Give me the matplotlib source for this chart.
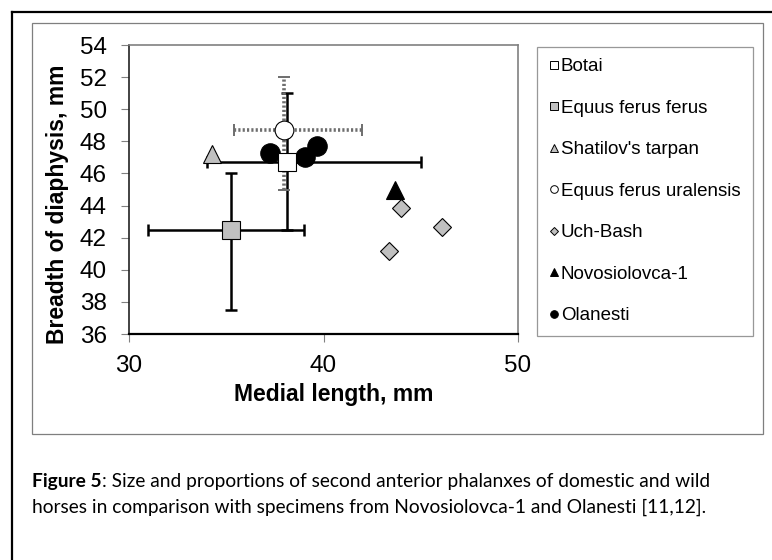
import matplotlib
matplotlib.use("Agg")
import matplotlib.pyplot as plt
from matplotlib.lines import Line2D
from matplotlib.patches import Rectangle

# ---- data ----
botai_x = [38.1]
botai_y = [46.7]
botai_xrange = [34.0, 45.0]
botai_yrange = [42.5, 51.0]

eff_x = [35.25]
eff_y = [42.5]
eff_xrange = [31.0, 39.0]
eff_yrange = [37.5, 46.0]

shatilov_x = [34.25]
shatilov_y = [47.2]

ural_x = [37.95]
ural_y = [48.7]
ural_xrange = [35.4, 42.0]
ural_yrange = [45.0, 52.0]

uch_x = [43.98, 46.08, 43.35]
uch_y = [43.87, 42.68, 41.19]

novo_x = [43.7]
novo_y = [45.0]

olan_x = [37.25, 39.05, 39.65]
olan_y = [47.25, 47.0, 47.7]

labels = ["Botai", "Equus ferus ferus", "Shatilov's tarpan", "Equus ferus uralensis",
          "Uch-Bash", "Novosiolovca-1", "Olanesti"]
xticks = [30, 40, 50]
yticks = [36, 38, 40, 42, 44, 46, 48, 50, 52, 54]

W, H = 772, 560
plt.rcParams['font.family'] = ['Liberation Sans', 'DejaVu Sans']
fig = plt.figure(figsize=(W / 100, H / 100), dpi=100)
fig.patch.set_facecolor('white')

def fx(px):
    return px / W

def fy(py):
    return 1 - py / H

# outer black frame (left & top visible)
fig.add_artist(Line2D([fx(12), fx(12)], [fy(11.5), 0], color='black', lw=1.6))
fig.add_artist(Line2D([fx(12), 1.0], [fy(11.5), fy(11.5)], color='black', lw=1.6))
# inner gray chart frame
fig.add_artist(Rectangle((fx(31.7), fy(434)), fx(762.7) - fx(31.7), fy(22.7) - fy(434),
                         fill=False, edgecolor='#7f7f7f', lw=0.9))

ax = fig.add_axes([fx(129), fy(334), fx(518) - fx(129), fy(45) - fy(334)])
ax.set_xlim(30, 50)
ax.set_ylim(36, 54)
ax.set_xticks(xticks)
ax.set_yticks(yticks)
ax.tick_params(axis='both', direction='out', length=6, width=0.8, color='#808080',
               labelsize=17.5)
ax.tick_params(axis='x', pad=9)
ax.tick_params(axis='y', pad=10)
for s in ['top', 'right']:
    ax.spines[s].set_color('#808080')
    ax.spines[s].set_linewidth(1.2)
ax.spines['left'].set_color('#222222')
ax.spines['left'].set_linewidth(1.2)
ax.spines['bottom'].set_color('black')
ax.spines['bottom'].set_linewidth(1.6)

ax.set_xlabel("Medial length, mm", fontsize=16.5, fontweight='bold')
ax.set_ylabel("Breadth of diaphysis, mm", fontsize=16.5, fontweight='bold')
ax.xaxis.set_label_coords(0.527, -0.17)
ax.yaxis.set_label_coords(-0.155, 0.45)

def err(c, rng):
    return [[c - rng[0]], [rng[1] - c]]

# error bars
ax.errorbar(botai_x, botai_y, xerr=err(botai_x[0], botai_xrange), yerr=err(botai_y[0], botai_yrange),
            fmt='none', ecolor='black', elinewidth=1.8, capsize=4, capthick=1.8, zorder=2)
ax.errorbar(eff_x, eff_y, xerr=err(eff_x[0], eff_xrange), yerr=err(eff_y[0], eff_yrange),
            fmt='none', ecolor='black', elinewidth=1.8, capsize=4, capthick=1.8, zorder=2)
eb = ax.errorbar(ural_x, ural_y, xerr=err(ural_x[0], ural_xrange), yerr=err(ural_y[0], ural_yrange),
                 fmt='none', ecolor='#6e6e6e', elinewidth=2.6, capsize=4, capthick=1.4, zorder=3)
for lc in eb[2]:
    lc.set_linestyle((0, (0.6, 0.6)))

edge = 0.8
ax.plot(olan_x, olan_y, 'o', ms=14, mfc='black', mec='black', mew=edge, ls='none', zorder=4)
ax.plot(shatilov_x, shatilov_y, '^', ms=13, mfc='#c0c0c0', mec='black', mew=edge, ls='none', zorder=4)
ax.plot(eff_x, eff_y, 's', ms=13, mfc='#c0c0c0', mec='black', mew=edge, ls='none', zorder=4)
ax.plot(botai_x, botai_y, 's', ms=13, mfc='white', mec='black', mew=edge, ls='none', zorder=5)
ax.plot(ural_x, ural_y, 'o', ms=13.5, mfc='white', mec='black', mew=edge, ls='none', zorder=6)
ax.plot(uch_x, uch_y, 'D', ms=9.5, mfc='#c0c0c0', mec='black', mew=edge, ls='none', zorder=4)
ax.plot(novo_x, novo_y, '^', ms=13, mfc='black', mec='black', mew=edge, ls='none', zorder=4)

# legend
specs = [('s', 'white'), ('s', '#c0c0c0'), ('^', '#c0c0c0'), ('o', 'white'),
         ('D', '#c0c0c0'), ('^', 'black'), ('o', 'black')]
handles = []
for (m, c), lab in zip(specs, labels):
    ms = 5.5 if m != 'D' else 4.2
    handles.append(Line2D([], [], marker=m, ls='none', ms=ms, mfc=c, mec='black', mew=0.7, label=lab))
x0, x1 = fx(537), fx(753)
y1 = fy(46.7)
leg = fig.legend(handles=handles, loc='upper left', bbox_to_anchor=(x0, 0, x1 - x0, y1),
                 mode='expand', fontsize=13.5, frameon=True, fancybox=False, handlelength=0.55,
                 handletextpad=0.1, labelspacing=1.3, borderpad=0.62, borderaxespad=0)
leg.get_frame().set_edgecolor('#7f7f7f')
leg.get_frame().set_linewidth(0.9)

# caption
cap_font = ['Lato', 'DejaVu Sans']
cap_size = 13.8
t1 = fig.text(fx(32), fy(487), "Figure 5", fontsize=cap_size, fontweight='bold', family=cap_font,
              va='baseline', ha='left')
fig.canvas.draw()
r = fig.canvas.get_renderer()
bb = t1.get_window_extent(r)
fig.text(bb.x1 / W, fy(487), ": Size and proportions of second anterior phalanxes of domestic and wild",
         fontsize=cap_size, family=cap_font, va='baseline', ha='left')
fig.text(fx(32), fy(513), "horses in comparison with specimens from Novosiolovca-1 and Olanesti [11,12].",
         fontsize=cap_size, family=cap_font, va='baseline', ha='left')

fig.savefig("out.png", dpi=100)
